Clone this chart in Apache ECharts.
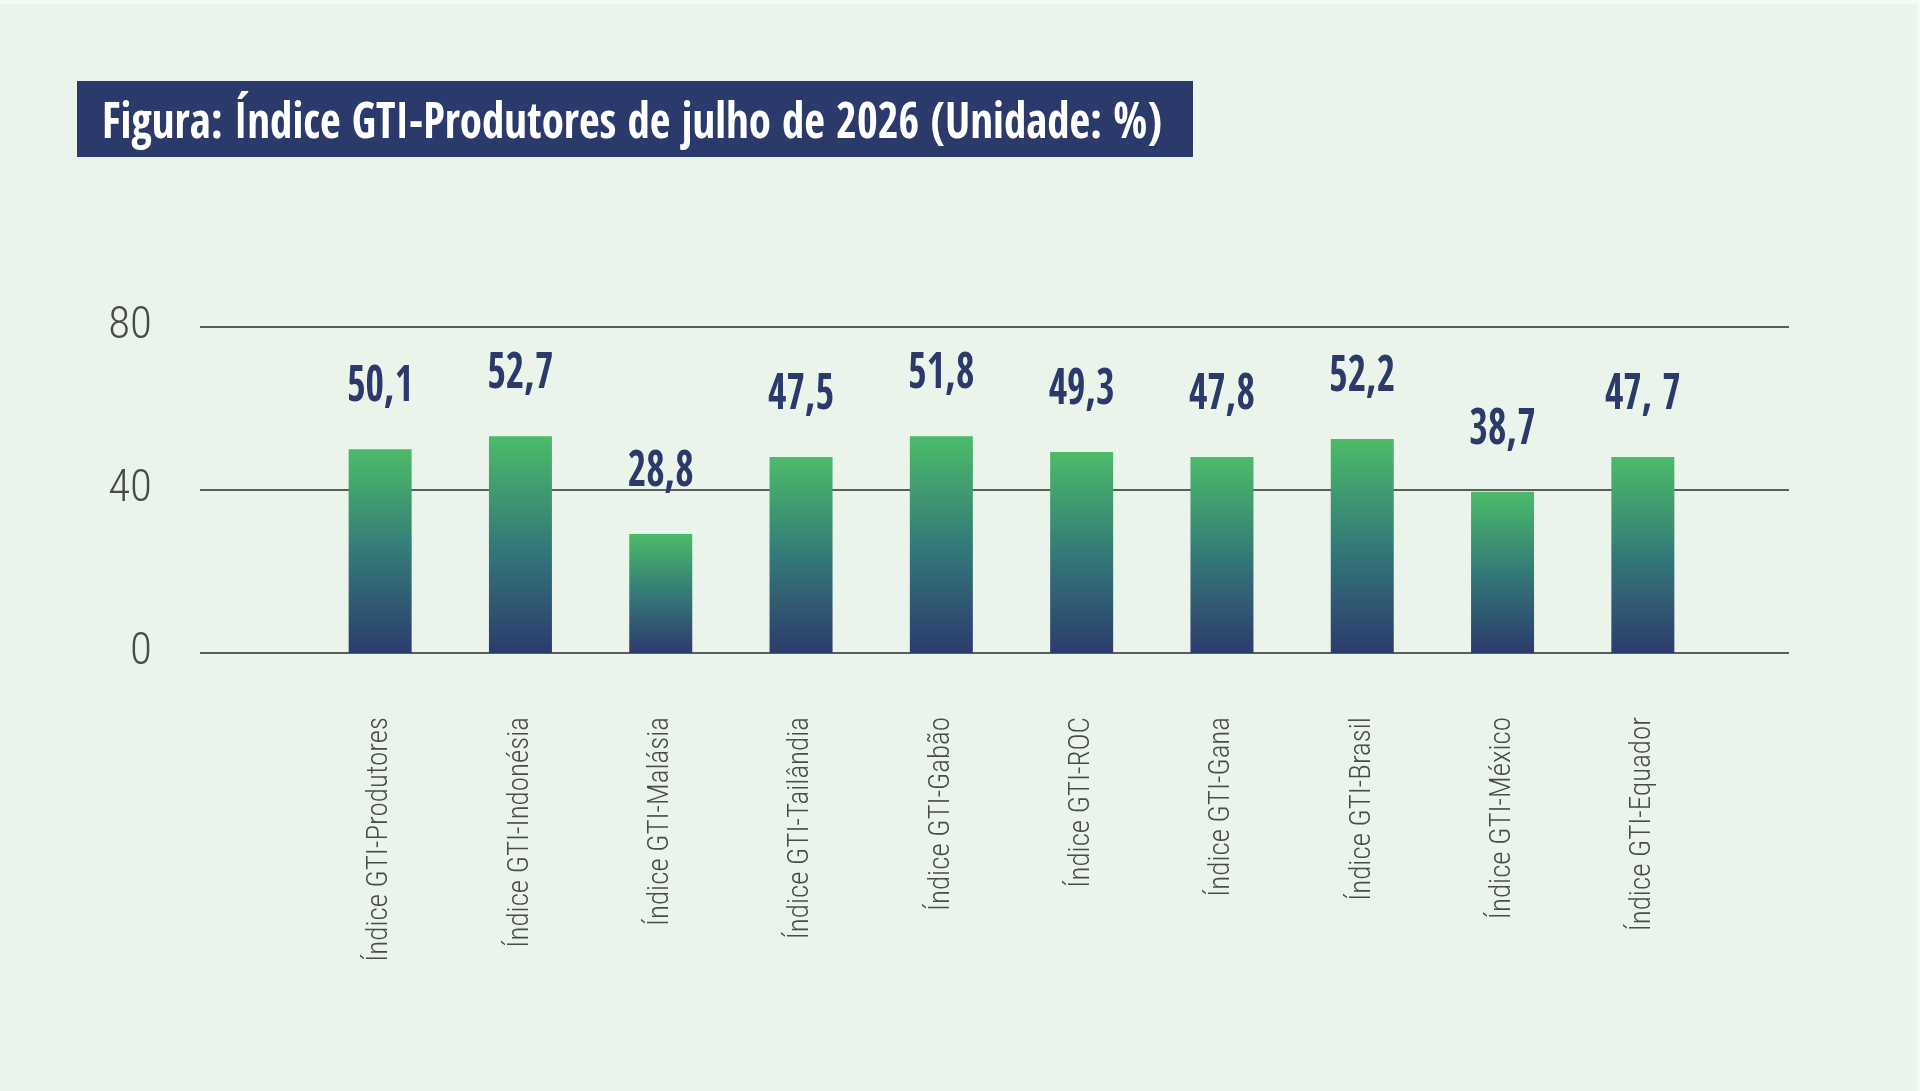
<!DOCTYPE html>
<html>
<head>
<meta charset="utf-8">
<script src="https://cdn.jsdelivr.net/npm/echarts@6/dist/echarts.min.js"></script>
<style>
html,body{margin:0;padding:0;background:#eaf4eb;}
#chart{width:1920px;height:1091px;}
</style>
</head>
<body>
<div id="chart"></div>
<script>
const titleText = 'Figura: Índice GTI-Produtores de julho de 2026 (Unidade: %)';
const categories = ['Índice GTI-Produtores','Índice GTI-Indonésia','Índice GTI-Malásia','Índice GTI-Tailândia','Índice GTI-Gabão','Índice GTI-ROC','Índice GTI-Gana','Índice GTI-Brasil','Índice GTI-México','Índice GTI-Equador'];
const barHeights = [50.0, 53.2, 29.2, 48.1, 53.2, 49.3, 48.1, 52.5, 39.6, 48.1];
const valueLabels = ['50,1','52,7','28,8','47,5','51,8','49,3','47,8','52,2','38,7','47, 7'];
const yTicks = [0, 40, 80];

const BOLDC = '"Open Sans Condensed", "Roboto Condensed", sans-serif';
const THINC = '"Roboto Condensed", "DejaVu Sans Condensed", sans-serif';

const ctx = document.createElement('canvas').getContext('2d');
function textWidth(t, font) { ctx.font = font; return ctx.measureText(t).width; }

const titleFont = 'bold 50px ' + BOLDC;
const titleScale = 1060 / textWidth(titleText, titleFont);
const labelFont = 'bold 50px ' + BOLDC;
const labelScale = 66 / textWidth('50,1', labelFont);

const chart = echarts.init(document.getElementById('chart'));
const option = {
  backgroundColor: '#eaf4eb',
  animation: false,
  graphic: [
    { type: 'rect', left: 0, top: 0, shape: { width: 1920, height: 4 }, style: { fill: '#f6faf6' } },
    { type: 'rect', left: 1917, top: 0, shape: { width: 3, height: 1091 }, style: { fill: '#f6faf6' } },
    { type: 'rect', left: 77, top: 81, shape: { width: 1116, height: 76 }, style: { fill: '#2c3a6b' } },
    { type: 'text', x: 102, y: 150, scaleX: titleScale,
      style: { text: titleText, fill: '#ffffff', font: titleFont, verticalAlign: 'bottom', align: 'left' } }
  ],
  grid: [
    { left: 200, right: 131, top: 327, bottom: 438 },
    { left: 310, right: 207, top: 327, bottom: 438 }
  ],
  xAxis: [
    { gridIndex: 0, type: 'value', min: 0, max: 1, show: false },
    { gridIndex: 1, type: 'category', data: categories,
      axisLine: { show: false }, axisTick: { show: false },
      axisLabel: { rotate: 90, margin: 64, fontSize: 29, fontWeight: 300, color: '#4a4a4a', fontFamily: THINC } }
  ],
  yAxis: [
    { gridIndex: 0, type: 'value', min: yTicks[0], max: yTicks[2], interval: yTicks[1] - yTicks[0],
      axisLine: { show: false }, axisTick: { show: false },
      axisLabel: { margin: 48, fontSize: 45, fontWeight: 300, color: '#4a4a4a', fontFamily: THINC },
      splitLine: { lineStyle: { color: '#595d5b', width: 2 } } },
    { gridIndex: 1, type: 'value', min: 0, max: 80, show: false }
  ],
  series: [{
    type: 'bar', xAxisIndex: 1, yAxisIndex: 1,
    data: barHeights, barWidth: 63,
    itemStyle: {
      color: new echarts.graphic.LinearGradient(0, 0, 0, 1, [
        { offset: 0, color: '#4cbb69' },
        { offset: 0.5, color: '#347a78' },
        { offset: 1, color: '#2c3b6e' }
      ])
    }
  }, {
    type: 'custom', xAxisIndex: 1, yAxisIndex: 1,
    data: barHeights.map((v, i) => [i, v]),
    renderItem: function (params, api) {
      const pt = api.coord([api.value(0), api.value(1)]);
      return {
        type: 'text', x: pt[0], y: pt[1] - 36, scaleX: labelScale,
        style: { text: valueLabels[params.dataIndex], fill: '#2c3a6b', font: labelFont, align: 'center', verticalAlign: 'bottom' }
      };
    }
  }]
};
chart.setOption(option);
</script>
</body>
</html>
